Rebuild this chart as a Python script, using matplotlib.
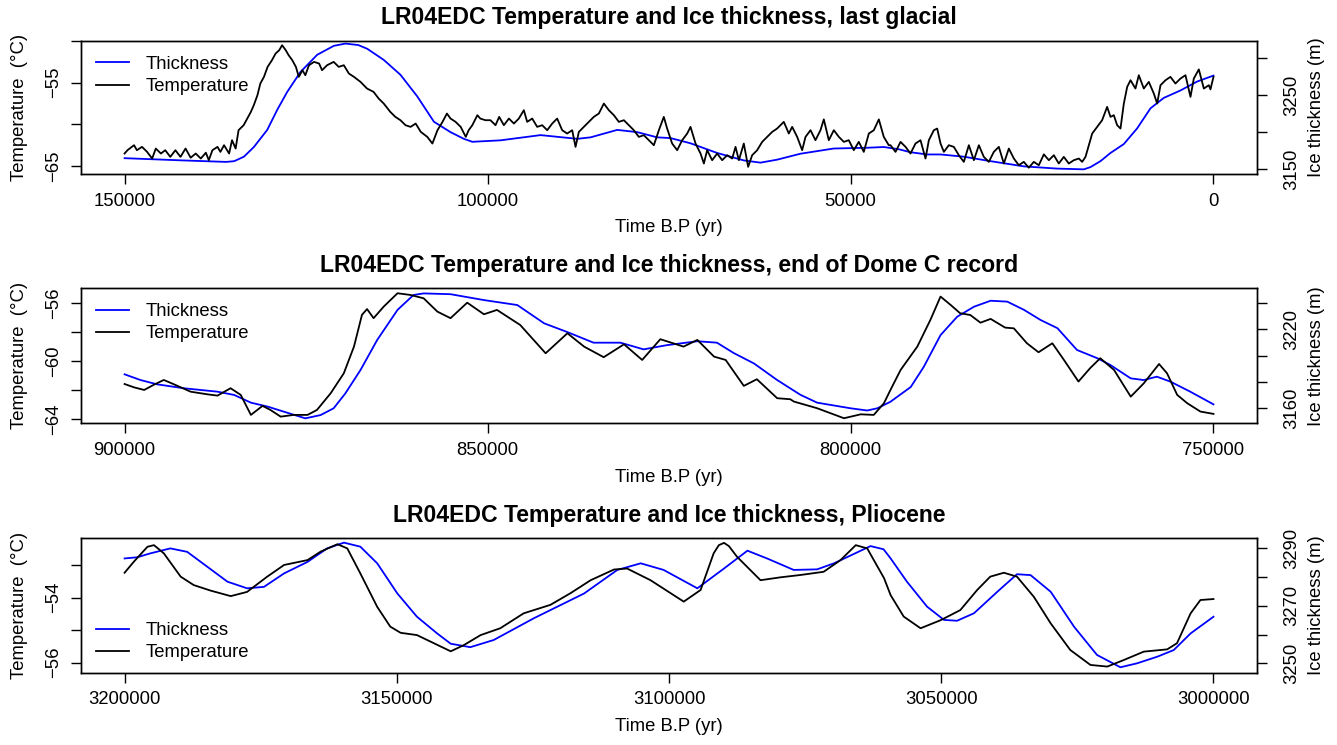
import matplotlib
matplotlib.use("Agg")
import matplotlib.pyplot as plt
from matplotlib.lines import Line2D

plt.rcParams['font.family'] = ['Liberation Sans', 'DejaVu Sans']

# ---- panel 1: last glacial ----
glac_thick_t = [150000, 142000, 136000, 134900, 133560, 132190, 130350, 128970, 127600, 125760,
                123460, 121170, 119560, 117800, 116570, 114290, 111990, 109680, 107390, 105100, 103260,
                102100, 98210, 92700, 87650, 85810, 82140, 79390, 76630, 74800, 72040,
                68370, 64700, 62400, 60110, 56890, 52300, 47710, 45420, 43350, 41740,
                39440, 37600, 34390, 30720, 26130, 21540, 17860, 16950, 15570, 14190,
                12350, 10520, 8680, 6850, 4550, 2250, 0]
glac_thick = [3165, 3162, 3160, 3161, 3167, 3180, 3203, 3230, 3254, 3281,
              3304, 3316, 3319, 3317, 3312, 3297, 3277, 3248, 3214, 3200, 3191,
              3187, 3189, 3196, 3191, 3193, 3203, 3200, 3193, 3192, 3185,
              3172, 3162, 3159, 3163, 3171, 3178, 3179, 3180, 3177, 3173,
              3170, 3170, 3167, 3161, 3154, 3151, 3150, 3153, 3161, 3172,
              3184, 3205, 3232, 3246, 3256, 3268, 3276]

glac_temp_t = [150000, 149600, 148700, 148300, 147600, 146900, 146200, 145700, 145000, 144400,
               143700, 143000, 142300, 141600, 140900, 140200, 139500, 138800, 138400, 137900,
               137200, 136800, 136300, 135600, 135200, 134700, 134300, 133600, 133100, 132600,
               132200, 131700, 131300, 130800, 130300, 129700, 129200, 128700, 128300, 127800,
               127400, 126900, 126400, 126000, 125500, 125100, 124600, 123900, 123200, 122800,
               122100, 121200, 120500, 119800, 119100, 118400, 117500, 116600, 115700, 115000,
               114300, 113400, 112700, 112000, 111300, 110600, 109900, 109200, 108300, 107600,
               106900, 106200, 105600,
               105100, 104400, 103700, 103000, 102600, 102100, 101400, 101000, 100300, 99600,
               98900, 98400, 97750, 97060, 96370, 95690, 95000, 94540, 93850, 93160,
               92470, 91780, 91090, 90410, 89720, 89030, 88340, 87880, 87420, 86730,
               86050, 85360, 84670, 83980, 83290, 82600, 81910, 81220, 80540, 79850,
               79160, 78470, 77780, 77090, 76400, 75720, 75260, 74570, 73880, 73190,
               72500, 72040, 71350, 70660, 70200, 69750, 69060, 68370, 67680, 66990,
               66300, 65840, 65380, 64700, 64100, 63550, 62860, 62170, 61480, 60790,
               60110, 59190, 58500, 58040, 57350, 56660, 56200, 55510, 54830, 54140,
               53680, 52990, 52300, 51610, 50920, 50240, 49550, 48860, 48170, 47480,
               46790, 46100, 45420, 44730,
               44490, 43800, 43110, 42420, 41740, 41050, 40360, 39670, 39210, 38520,
               38060, 37600, 37140, 36460, 35770, 35080, 34390, 33700, 33010, 32320,
               31640, 30950, 30260, 29570, 28880, 28190, 27500, 26820, 26130, 25440,
               24750, 24060, 23370, 22680, 21990, 21310, 20620, 19930, 19240, 18550,
               18090, 17630, 17170, 16710, 16030, 15340, 14650, 14190, 13730, 13270,
               12810, 12350, 11890, 11430, 10750, 10290, 9600, 8910, 8220, 7760,
               7300, 6610, 5930, 5240, 4550, 3860, 3170, 2710, 2020, 1330,
               640, 420, 0]
glac_temp = [-63.5, -63.1, -62.5, -63.1, -62.7, -63.3, -64.1, -62.9, -63.5, -63.1,
             -63.9, -63.1, -63.9, -62.9, -64.0, -63.5, -64.1, -63.4, -64.3, -63.1,
             -62.7, -63.3, -62.5, -63.5, -61.9, -62.9, -60.7, -60.1, -59.3, -58.5,
             -57.7, -56.5, -55.1, -54.3, -53.1, -52.3, -51.5, -51.1, -50.5, -51.1,
             -51.7, -52.3, -53.1, -54.3, -53.5, -54.1, -52.9, -52.5, -52.7, -53.5,
             -52.9, -52.5, -53.1, -52.9, -53.9, -54.3, -54.9, -55.7, -56.1, -56.9,
             -57.5, -58.5, -59.1, -59.5, -60.1, -60.3, -59.9, -60.9, -61.5, -62.3,
             -60.7, -59.7, -58.7,
             -59.3, -59.7, -60.3, -61.5, -60.7, -60.1, -58.9, -59.3, -59.5, -59.5,
             -60.1, -59.1, -60.1, -59.3, -59.9, -59.3, -58.3, -59.7, -59.3, -60.3,
             -60.1, -60.7, -59.9, -59.3, -60.7, -61.1, -60.7, -62.7, -60.9, -60.3,
             -59.7, -59.1, -58.7, -57.5, -58.3, -58.9, -59.7, -59.5, -60.1, -60.7,
             -61.5, -61.3, -61.9, -62.5, -60.7, -59.1, -60.5, -62.3, -63.1, -61.9,
             -61.1, -60.3, -62.3, -63.5, -64.7, -63.1, -64.3, -63.5, -64.3, -63.7,
             -64.1, -62.7, -64.3, -62.3, -65.1, -63.7, -63.1, -62.1, -61.5, -60.9,
             -60.5, -59.7, -61.1, -60.3, -61.5, -63.1, -61.5, -60.7, -61.9, -60.7,
             -59.4, -61.9, -60.7, -61.5, -62.1, -61.9, -63.1, -62.1, -63.3, -61.1,
             -60.7, -59.4, -61.5, -62.5,
             -62.5, -63.3, -62.1, -62.7, -63.5, -62.3, -61.9, -64.1, -61.9, -60.7,
             -60.5, -62.3, -63.3, -62.5, -62.7, -63.7, -64.5, -62.5, -64.3, -62.5,
             -63.9, -64.5, -63.3, -62.7, -64.7, -62.9, -64.1, -64.9, -64.5, -65.2,
             -64.5, -64.9, -63.6, -64.3, -63.7, -64.7, -63.9, -64.7, -64.3, -64.1,
             -64.5, -63.9, -62.5, -61.1, -60.3, -59.5, -57.9, -59.1, -58.9, -60.1,
             -60.5, -57.5, -55.5, -54.7, -55.7, -54.1, -55.7, -54.9, -56.3, -57.5,
             -55.3, -54.7, -54.3, -55.1, -54.5, -54.1, -56.7, -54.5, -53.4, -55.7,
             -55.3, -55.8, -54.3]

# ---- panel 2: end of Dome C record ----
domec_thick_t = [900000, 897800, 895500, 891800, 887200, 884900, 882600, 880300, 878000, 875100,
                 873000, 871200, 869600, 867500, 865200, 862400, 860200, 858800, 855100, 850500,
                 845900, 842200, 839000, 835400, 831700, 828500, 825300, 821100, 818400, 816100,
                 813300, 810100, 806900, 804600, 800000, 797700, 796300, 794500, 791700, 789900,
                 787600, 785300, 783000, 780700, 778400, 776100, 773800, 771500, 768800, 766000,
                 764200, 761400, 759600, 757800, 755900, 753200, 750000]
domec_thick = [3185.7, 3181.3, 3178.0, 3175.0, 3172.4, 3169.9, 3164.0, 3161.0, 3157.0, 3152.0,
               3154.5, 3159.7, 3171.0, 3189.0, 3212.0, 3235.0, 3246.4, 3247.6, 3247.0, 3242.5,
               3238.7, 3224.7, 3218.0, 3209.9, 3209.9, 3204.8, 3208.0, 3211.0, 3209.9, 3202.0,
               3194.0, 3181.3, 3170.0, 3164.0, 3159.7, 3158.0, 3159.7, 3164.7, 3176.0, 3191.5,
               3215.7, 3229.8, 3237.4, 3242.0, 3241.3, 3235.0, 3227.2, 3221.0, 3204.3, 3198.0,
               3192.8, 3182.6, 3181.3, 3183.9, 3180.0, 3172.4, 3162.7]

domec_temp_t = [900000, 898700, 897300, 896000, 894600, 893200, 890900, 888600, 887200, 885400,
                884000, 882600, 881000, 879900, 878500, 876700, 874800, 873500, 871600, 869800,
                868400, 867300, 866600, 865700, 864300, 862400, 860600, 858800, 856900, 855100,
                852800, 850500, 848700, 845500, 842000, 839000, 836700, 834000, 831200, 828700,
                826200, 823000, 821100, 818800, 817200, 814700, 812900, 810100, 808300, 807800,
                804600, 800900, 798600, 796800, 795400, 794500, 793100, 790800, 789000, 787600,
                786200, 784900, 783500, 782100, 780700, 778700, 777500, 775700, 774100, 772200,
                770600, 768600, 767000, 765600, 763700, 761400, 759600, 757500, 756400, 755000,
                753600, 751800, 750000]
domec_temp = [-61.57, -61.80, -61.98, -61.63, -61.29, -61.59, -62.10, -62.28, -62.37, -61.86,
              -62.32, -63.70, -63.08, -63.36, -63.82, -63.70, -63.70, -63.36, -62.20, -60.83,
              -58.99, -56.80, -56.40, -57.03, -56.23, -55.31, -55.43, -55.66, -56.58, -57.03,
              -55.96, -56.76, -56.46, -57.50, -59.45, -58.07, -58.99, -59.72, -58.83, -59.91,
              -58.48, -58.99, -58.53, -59.68, -59.91, -61.70, -61.24, -62.55, -62.62, -62.78,
              -63.24, -63.93, -63.66, -63.70, -62.90, -61.98, -60.60, -58.99, -57.15, -55.54,
              -56.12, -56.69, -56.81, -57.34, -57.08, -57.68, -57.73, -58.76, -59.38, -58.76,
              -59.91, -61.40, -60.48, -59.79, -60.60, -62.44, -61.52, -60.19, -60.83, -62.32,
              -62.90, -63.47, -63.63]

# ---- panel 3: Pliocene ----
plio_thick_t = [3200000, 3197700, 3195200, 3191600, 3188500, 3184800, 3181100, 3177500, 3174400, 3170700,
                3166400, 3162800, 3159700, 3156700, 3153600, 3149900, 3146300, 3142600, 3140100, 3136500,
                3132200, 3124800, 3115600, 3109500, 3105200, 3101000, 3094800, 3089900, 3085600, 3082000,
                3077100, 3072800, 3069700, 3063000, 3060600, 3059300, 3056300, 3052600, 3049500, 3047100,
                3044000, 3039700, 3036100, 3033600, 3029900, 3025600, 3021400, 3017100, 3014000, 3010300,
                3007300, 3004200, 3000000]
plio_thick = [3286.5, 3286.9, 3288.3, 3290.0, 3288.8, 3283.6, 3278.4, 3276.1, 3276.6, 3281.3,
              3285.3, 3290.0, 3292.0, 3290.6, 3284.8, 3274.3, 3266.2, 3260.4, 3256.8, 3255.6,
              3258.1, 3265.7, 3274.3, 3282.5, 3284.8, 3282.5, 3276.1, 3283.0, 3289.2, 3286.5,
              3282.5, 3282.7, 3284.8, 3290.8, 3289.7, 3286.5, 3278.4, 3269.7, 3265.1, 3264.8,
              3267.4, 3274.9, 3281.0, 3280.7, 3274.9, 3262.7, 3252.9, 3248.6, 3250.0, 3252.3,
              3254.6, 3260.4, 3266.2]

plio_temp_t = [3200000, 3198300, 3195800, 3194600, 3192800, 3189700, 3187300, 3184200, 3180500, 3177500,
               3173800, 3170700, 3166400, 3164000, 3160900, 3159100, 3156700, 3153600, 3151200, 3149300,
               3146300, 3143200, 3140100, 3137700, 3134600, 3131000, 3126700, 3121800, 3118100, 3114400,
               3110100, 3107700, 3103400, 3097300, 3094200, 3091800, 3090850, 3089900, 3089000, 3087500,
               3083200, 3079500,
               3075900, 3071600, 3068500, 3065700, 3063600, 3060500, 3059300, 3056900, 3053800, 3050100,
               3046500, 3043400, 3041000, 3038500, 3036100, 3033000, 3029900, 3026300, 3022600, 3019500,
               3016500, 3012800, 3008500, 3006700, 3004200, 3002400, 3000000]
plio_temp = [-53.23, -52.89, -52.43, -52.38, -52.63, -53.35, -53.61, -53.78, -53.95, -53.82,
             -53.35, -52.99, -52.84, -52.58, -52.35, -52.48, -53.25, -54.28, -54.89, -55.08,
             -55.15, -55.40, -55.65, -55.46, -55.15, -54.94, -54.48, -54.22, -53.86, -53.46,
             -53.13, -53.10, -53.46, -54.12, -53.76, -52.63, -52.38, -52.31, -52.41, -52.74,
             -53.46, -53.37,
             -53.30, -53.20, -52.84, -52.38, -52.48, -53.40, -53.92, -54.58, -54.94, -54.69,
             -54.38, -53.76, -53.35, -53.23, -53.35, -53.97, -54.79, -55.61, -56.07, -56.12,
             -55.92, -55.66, -55.59, -55.40, -54.48, -54.07, -54.04]

panels = [
    dict(title="LR04EDC Temperature and Ice thickness, last glacial",
         tt=glac_temp_t, temp=glac_temp, ht=glac_thick_t, thick=glac_thick,
         xlim=(156000, -6000), xticks=[150000, 100000, 50000, 0],
         ylim=(-65.96, -50.0), yticks=[-50, -55, -60, -65], ylabs=["", "\u221255", "", "\u221265"],
         y2lim=(3143.7, 3322.4), y2ticks=[3150, 3200, 3250, 3300], y2labs=["3150", "", "3250", ""],
         box=(0.0606, 0.7664, 0.8796, 0.1785), leg="upper left", anchor=(0.0, 1.0)),
    dict(title="LR04EDC Temperature and Ice thickness, end of Dome C record",
         tt=domec_temp_t, temp=domec_temp, ht=domec_thick_t, thick=domec_thick,
         xlim=(906000, 744000), xticks=[900000, 850000, 800000, 750000],
         ylim=(-64.28, -54.97), yticks=[-56, -58, -60, -62, -64],
         ylabs=["\u221256", "", "\u221260", "", "\u221264"],
         y2lim=(3148.2, 3251.5), y2ticks=[3160, 3180, 3200, 3220, 3240],
         y2labs=["3160", "", "", "3220", ""],
         box=(0.0606, 0.4318, 0.8796, 0.1812), leg="upper left", anchor=(0.0, 1.0)),
    dict(title="LR04EDC Temperature and Ice thickness, Pliocene",
         tt=plio_temp_t, temp=plio_temp, ht=plio_thick_t, thick=plio_thick,
         xlim=(3208000, 2992000), xticks=[3200000, 3150000, 3100000, 3050000, 3000000],
         ylim=(-56.31, -52.17), yticks=[-53, -54, -55, -56], ylabs=["", "\u221254", "", "\u221256"],
         y2lim=(3246.7, 3293.5), y2ticks=[3250, 3260, 3270, 3280, 3290],
         y2labs=["3250", "", "3270", "", "3290"],
         box=(0.0606, 0.0970, 0.8796, 0.1804), leg="lower left", anchor=(0.0, -0.025)),
]

fs = 13.3
fig = plt.figure(figsize=(13.37, 7.45), dpi=100)

for p in panels:
    ax = fig.add_axes(p["box"])
    ax2 = ax.twinx()
    ax2.plot(p["ht"], p["thick"], color="#0000FF", lw=1.3)
    ax.plot(p["tt"], p["temp"], color="black", lw=1.3)
    ax.set_zorder(ax2.get_zorder() + 1)
    ax.patch.set_visible(False)

    ax.set_xlim(*p["xlim"])
    ax.set_ylim(*p["ylim"])
    ax2.set_ylim(*p["y2lim"])
    ax.set_xticks(p["xticks"])
    ax.set_xticklabels([str(v) for v in p["xticks"]])
    ax.set_yticks(p["yticks"])
    ax.set_yticklabels(p["ylabs"], rotation=90, va="center")
    ax2.set_yticks(p["y2ticks"])
    ax2.set_yticklabels(p["y2labs"], rotation=90, va="center")

    for a in (ax, ax2):
        a.tick_params(axis="both", direction="out", length=7.5, width=1.0,
                      labelsize=fs, pad=6)
        for s in a.spines.values():
            s.set_linewidth(1.0)
    ax.tick_params(axis="y", pad=6)
    ax2.tick_params(axis="y", pad=11)

    ax.set_title(p["title"], fontsize=16.6, fontweight="bold", pad=12)
    ax.set_xlabel("Time B.P (yr)", fontsize=fs)
    ax.xaxis.set_label_coords(0.5, -0.34)
    ax.set_ylabel("Temperature  (\u00b0C)", fontsize=fs)
    ax.yaxis.set_label_coords(-0.045, 0.5)
    ax2.set_ylabel("Ice thickness (m)", fontsize=fs)
    ax2.yaxis.set_label_coords(1.043, 0.5)

    handles = [Line2D([], [], color="#0000FF", lw=1.3), Line2D([], [], color="black", lw=1.3)]
    ax.legend(handles, ["Thickness", "Temperature"], loc=p["leg"], bbox_to_anchor=p["anchor"],
              frameon=False, fontsize=fs, handlelength=1.8, handletextpad=0.9,
              labelspacing=0.28, borderaxespad=0.45, borderpad=0.35)

fig.savefig("out.png", dpi=100)
